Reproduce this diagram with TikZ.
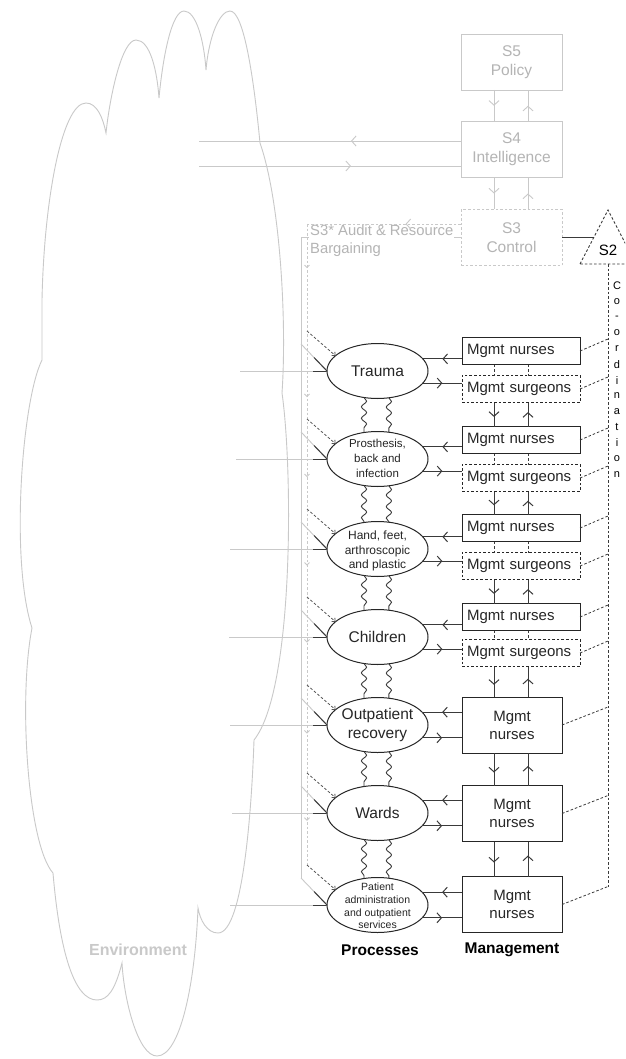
\documentclass[tikz,border=0pt]{standalone}
\usepackage{fontspec}
\setmainfont{Liberation Sans}
\usetikzlibrary{shapes.geometric,arrows.meta,decorations.pathmorphing,decorations.markings,calc}

\definecolor{ink}{HTML}{262626}
\definecolor{wire}{HTML}{3A3A3A}
\definecolor{pale}{HTML}{C9C9C9}
\definecolor{paletext}{HTML}{B4B4B4}
\definecolor{dashink}{HTML}{555555}

\newcommand\fntbig{\fontsize{15.5}{18.5}\selectfont}
\newcommand\fntbox{\fontsize{15}{18}\selectfont}

\tikzset{
  dsh/.style={dash pattern=on 2.6pt off 2pt},
  link/.style={draw=wire, line width=1pt},
  paleline/.style={draw=pale, line width=0.9pt},
  midarr/.style={postaction={decorate,decoration={markings,
      mark=at position #1 with {\arrow{Straight Barb[length=4.5pt,width=10pt]}}}}},
  tinyarr/.style={-{Straight Barb[length=2.5pt,width=5pt]}},
  proc/.style={ellipse, draw=ink, line width=1pt, minimum width=101pt,
      minimum height=55pt, inner sep=0pt, outer sep=0pt},
  ptext/.style={text=ink, align=center, inner sep=0pt},
  boxbase/.style={rectangle, draw=ink, line width=1pt, inner sep=0pt,
      outer sep=0pt, text=ink, font=\fntbox},
  mbox/.style={boxbase, minimum height=27pt, text width=108pt, inner xsep=5pt,
      align=left},
  bbox/.style={boxbase, minimum width=100pt, minimum height=56pt, align=center},
  vsm/.style={rectangle, draw=pale, line width=0.9pt, minimum width=101pt,
      minimum height=56pt, inner sep=0pt, outer sep=0pt, text=paletext,
      align=center, font=\fontsize{15.5}{19}\selectfont},
  wavy/.style={draw=wire, line width=0.9pt, decorate,
      decoration={snake, amplitude=2.6pt, segment length=11.5pt}},
}

\begin{document}
\begin{tikzpicture}[x=1pt,y=-1pt]
\useasboundingbox (0,0) rectangle (625,1059);
\fill[white] (0,0) rectangle (625,1059);
\clip (0,0) rectangle (625,1059);

% ---------------- environment cloud ----------------
\draw[pale, line width=0.9pt]
 (32,628) .. controls (10,560) and (22,400) .. (42,360)
 -- (42,300)
 .. controls (44,200) and (62,103) .. (86,103)
 .. controls (97,103) and (103,118) .. (106,133)
 .. controls (110,95) and (122,40) .. (136,40)
 .. controls (150,40) and (157,70) .. (159,98)
 .. controls (163,55) and (172,11) .. (184,11)
 .. controls (196,11) and (204,40) .. (206,70)
 .. controls (209,35) and (220,11) .. (230,11)
 .. controls (244,11) and (254,80) .. (260,143)
 .. controls (280,200) and (287,320) .. (282,393)
 .. controls (293,470) and (294,690) .. (254,740)
 .. controls (252,800) and (244,933) .. (218,933)
 .. controls (207,933) and (200,920) .. (198,908)
 .. controls (195,985) and (180,1056) .. (157,1056)
 .. controls (138,1056) and (124,1000) .. (122,963)
 .. controls (115,990) and (108,1000) .. (97,1000)
 .. controls (75,1000) and (60,955) .. (53,873)
 .. controls (28,845) and (18,700) .. (32,628);
\node[text=pale, font=\bfseries\fontsize{16}{19}\selectfont] (envlabel) at (138,950) {Environment};

% ---------------- systems 5, 4, 3 ----------------
\node[vsm] (s5) at (511.5,62) {S5\\Policy};
\node[vsm] (s4) at (511.5,149.5) {S4\\Intelligence};
\node[vsm,dsh] (s3) at (511.5,237.5) {S3\\Control};

\coordinate (cl) at (494,0);
\coordinate (cr) at (528,0);
\draw[paleline, midarr=0.5] (s5.south -| cl) -- (s4.north -| cl);
\draw[paleline, midarr=0.5] (s4.north -| cr) -- (s5.south -| cr);
\draw[paleline, midarr=0.5] (s4.south -| cl) -- (s3.north -| cl);
\draw[paleline, midarr=0.5] (s3.north -| cr) -- (s4.south -| cr);

\coordinate (out4) at (199,141);
\coordinate (in4) at (199,166);
\draw[paleline, midarr=0.42] (out4 -| s4.west) -- (out4);
\draw[paleline, midarr=0.58] (in4) -- (in4 -| s4.west);

% command channel (solid) and audit channel (dashed)
\coordinate (cmd) at (301,237);
\coordinate (aud) at (307,224);
\draw[paleline] (cmd -| s3.west) -- (cmd) -- (301,878);
\node[fill=white, inner xsep=1pt, inner ysep=0pt, anchor=west, align=left,
      text=paletext, font=\fontsize{14.8}{18}\selectfont] (s3star) at (309,241)
      {S3* Audit \& Resource\\Bargaining};
\draw[paleline, dsh, midarr=0.36] (aud -| s3.west) -- (aud);
\draw[paleline, dsh, postaction={decorate,decoration={markings,
   mark=at position 0.069 with {\arrow{Straight Barb[length=2.5pt,width=5pt]}},
   mark=at position 0.27 with {\arrow{Straight Barb[length=2.5pt,width=5pt]}},
   mark=at position 0.395 with {\arrow{Straight Barb[length=2.5pt,width=5pt]}},
   mark=at position 0.533 with {\arrow{Straight Barb[length=2.5pt,width=5pt]}},
   mark=at position 0.653 with {\arrow{Straight Barb[length=2.5pt,width=5pt]}},
   mark=at position 0.795 with {\arrow{Straight Barb[length=2.5pt,width=5pt]}},
   mark=at position 0.931 with {\arrow{Straight Barb[length=2.5pt,width=5pt]}}}}]
   (aud) -- (307,865);

% ---------------- system 2 ----------------
\coordinate (tA) at (608,210);
\coordinate (tL) at (580,264);
\coordinate (tR) at (636,264);
\draw[wire, line width=0.9pt, dsh] (tL) -- (tA) -- (tR) -- cycle;
\node[text=black, font=\fontsize{15}{18}\selectfont] (s2) at (608,250) {S2};
\coordinate (tedge) at (594,237);
\draw[link] (s3.east) -- (s3.east -| tedge);
\coordinate (co) at (608,264);
\foreach \ch [count=\k from 0] in {C,o,-,o,r,d,i,n,a,t,i,o,n}
  \node[text=black, inner sep=0pt, font=\fontsize{11}{13}\selectfont] (co\k) at (617,286+15.67*\k) {\ch};

% ---------------- operations ----------------
\node[proc] (e1) at (377.5,371) {};
\node[proc] (e2) at (377.5,459) {};
\node[proc] (e3) at (377.5,549) {};
\node[proc] (e4) at (377.5,637) {};
\node[proc] (e5) at (377.5,725) {};
\node[proc] (e6) at (377.5,813) {};
\node[proc] (e7) at (377.5,905) {};

\node[ptext, font=\fntbig] (t1) at (e1) {Trauma};
\node[ptext, font=\fontsize{11.5}{14.8}\selectfont] (t2) at (377.5,458.5) {Prosthesis,\\back and\\infection};
\node[ptext, font=\fontsize{12}{14.5}\selectfont] (t3) at (377.5,551) {Hand, feet,\\arthroscopic\\and plastic};
\node[ptext, font=\fntbig] (t4) at (e4) {Children};
\node[ptext, font=\fntbig] (t5) at (e5) {Outpatient\\recovery};
\node[ptext, font=\fntbig] (t6) at (e6) {Wards};
\node[ptext, font=\fontsize{10.5}{12.7}\selectfont] (t7) at (377.5,906) {Patient\\administration\\and outpatient\\services};

\node[mbox] (n1) at (521,351) {Mgmt nurses};
\node[mbox,dsh] (g1) at (521,389) {Mgmt surgeons};
\node[mbox] (n2) at (521,440) {Mgmt nurses};
\node[mbox,dsh] (g2) at (521,478) {Mgmt surgeons};
\node[mbox] (n3) at (521,528) {Mgmt nurses};
\node[mbox,dsh] (g3) at (521,566) {Mgmt surgeons};
\node[mbox] (n4) at (521,617) {Mgmt nurses};
\node[mbox,dsh] (g4) at (521,653) {Mgmt surgeons};
\node[bbox] (b5) at (512,725) {Mgmt\\nurses};
\node[bbox] (b6) at (512,813.5) {Mgmt\\nurses};
\node[bbox] (b7) at (512,904.5) {Mgmt\\nurses};

% operations <-> management
\foreach \i in {1,2,3,4} {
  \draw[link, midarr=0.5] (e\i.15 -| n\i.west) -- (e\i.15);
  \draw[link, midarr=0.5] (e\i.-15) -- (e\i.-15 -| g\i.west);
  \draw[link, dsh] (n\i.south -| cl) -- (g\i.north -| cl);
  \draw[link, dsh] (n\i.south -| cr) -- (g\i.north -| cr);
}
\foreach \i in {5,6,7} {
  \draw[link, midarr=0.5] (e\i.16 -| b\i.west) -- (e\i.16);
  \draw[link, midarr=0.5] (e\i.-16) -- (e\i.-16 -| b\i.west);
}
% management chain
\foreach \u/\l in {g1/n2, g2/n3, g3/n4, g4/b5, b5/b6, b6/b7} {
  \draw[link, midarr=0.6] (\u.south -| cl) -- (\l.north -| cl);
  \draw[link, midarr=0.6] (\l.north -| cr) -- (\u.south -| cr);
}
% interaction between operations
\foreach \a/\b in {1/2,2/3,3/4,4/5,5/6,6/7} {
  \draw[wavy] (e\a.-117) -- (e\b.117);
  \draw[wavy] (e\a.-67) -- (e\b.67);
}
% co-ordination links
\foreach \b in {n1,g1,n2,g2,n3,g3,n4,g4} {
  \path (\b.east -| co) ++(0,-12) coordinate (k\b);
  \draw[link, line width=0.8pt, dsh] (\b.east) -- (k\b);
}
\foreach \b in {b5,b6,b7} {
  \path (\b.east -| co) ++(0,-18) coordinate (k\b);
  \draw[link, line width=0.8pt, dsh] (\b.east) -- (k\b);
}
\draw[link, line width=0.8pt, dsh] (co) -- (kb7);

% environment, command and audit links into each operation
\foreach \i/\ex in {1/240,2/236,3/230,4/229,5/230,6/232,7/230} {
  \coordinate (env\i) at (e\i.west -| \ex,0);
  \path (e\i.west) ++(-14,0) coordinate (h\i);
  \draw[paleline] (env\i) -- (e\i.west);
  \draw[link] (h\i) -- (e\i.west);
  \path (e\i.west) ++(-26,-27) coordinate (m\i);
  \draw[paleline] (m\i) -- (e\i.west);
  \draw[link] ($(m\i)!0.5!(e\i.west)$) -- (e\i.west);
  \path (e\i.west) ++(-20,-40) coordinate (a\i);
  \draw[dashink, line width=0.8pt, dsh, tinyarr] (a\i) -- (e\i.160);
}

% column headings
\node[text=black, font=\bfseries\fontsize{15.5}{18}\selectfont] (hproc) at (380,950) {Processes};
\node[text=black, font=\bfseries\fontsize{15.5}{18}\selectfont] (hman) at (512,950) {Management};
\end{tikzpicture}
\end{document}
